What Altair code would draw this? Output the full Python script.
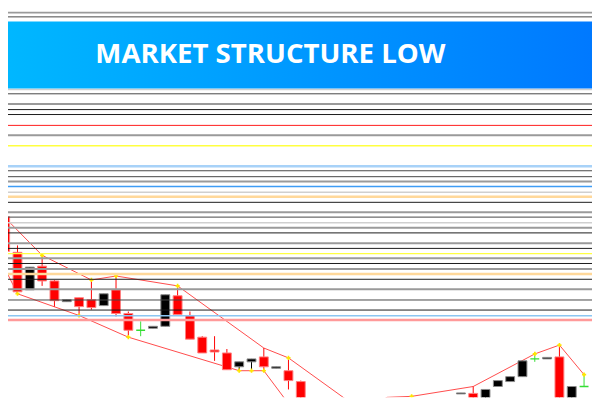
import altair as alt
import pandas as pd

# ---------------- data (price units; higher = up) ----------------
idx   = [0, 1, 2, 3, 4, 5, 6, 7, 8, 9, 10, 11, 12, 13, 14, 15, 16, 17, 18, 19, 20, 21, 22, 23, 24,
         37, 38, 39, 40, 41, 42, 43, 44, 45, 46, 47]
opens = [183, 147, 109, 133, 118, 97, 101, 99, 93, 109, 85, 68, 70, 72, 103, 83, 61, 48, 45, 31, 36, 41, 29.5, 27, 16,
         3.5, 4, -20, 11, 16, 21, 39, 39, 41, -20, 11]
highs = [185, 154, 132, 144, 119, 99, 101, 119, 105, 123, 87, 77, 72, 104, 113, 87, 62, 62, 49, 36, 39, 50, 31, 40, 17,
         4.5, 11, 8, 17, 21, 37, 46, 40.5, 53, 11, 23]
lows  = [144, 105, 109, 113, 92, 97, 83, 89, 93, 82, 61, 62, 70, 72, 83, 59, 45, 37, 28, 27, 27, 27, 29.5, 8, -10,
         3.5, -25, -22, 11, 16, 21, 36, 39, -25, -22, 11]
closes= [148, 107, 132, 118, 98, 99, 92, 91, 105, 85, 68, 68, 72, 104, 84, 59, 45, 46, 28, 36, 39, 31, 31, 17, -5,
         4.5, -20, 8, 17, 21, 37, 39, 40.5, -20, 11, 11]

# market-structure swing lines
upper_i = [0, 3, 7, 9, 14, 21, 23, 29, 31, 33, 38, 43, 45, 47]
upper_v = [182, 144, 119, 123, 113, 50, 40, -14, 0, 1, 11, 44, 53, 23]
lower_i = [0, 1, 6, 10, 19, 20, 21, 24, 26]
lower_v = [130, 105, 83, 61, 27, 27, 27, -23, -40]

# swing markers
mark_i = [3, 7, 9, 14, 23, 33, 43, 45, 47, 1, 6, 10, 19, 20, 21]
mark_v = [144, 119, 123, 113, 40, 1, 44, 53, 23, 105, 83, 61, 27, 27, 27]

# horizontal price levels
levels = [395.7, 390, 385.7, 312, 307.7, 297.3, 291.7, 286.7, 275.7, 265.7, 255, 234.3, 229.7, 223.7,
          218.7, 213.7, 208, 203.3, 197.7, 187.7, 182.7, 177, 172, 166.7, 156.3, 151, 145.7, 141,
          135.7, 130, 125, 119.7, 109.5, 98.7, 88.5, 82.8, 78.5]
level_style = ["k", "g", "d", "lg", "d", "g", "k", "k", "r", "g", "y", "lb", "d", "d",
               "g", "b", "lg", "o", "k", "g", "d", "lg", "g", "k", "g", "k", "y", "g",
               "k", "g", "o", "k", "g", "d", "k", "lb2", "p"]

title_text = "MARKET STRUCTURE LOW"

# ---------------- styling ----------------
style_color = {"k": "#1a1a1a", "d": "#454545", "g": "#9a9a9a", "lg": "#cfcfcf", "r": "#ff1a1a",
               "y": "#ffff40", "lb": "#a8d2f8", "b": "#3d9cf5", "o": "#ffd89a", "lb2": "#8cc6f2",
               "p": "#ff9a9a"}
style_width = {"k": 1, "d": 1, "g": 2, "lg": 1.5, "r": 1, "y": 1.5, "lb": 2.5, "b": 1.5, "o": 2.5,
               "lb2": 1.5, "p": 2.5}

candles = pd.DataFrame({"i": idx, "open": opens, "high": highs, "low": lows, "close": closes})
def _dir(r):
    if r["close"] < r["open"]:
        return "down"
    if r["close"] > r["open"]:
        return "up"
    return "doji"
candles["dir"] = candles.apply(_dir, axis=1)
fill_map = {"down": "#ff0000", "up": "#000000", "doji": "#33dd33"}
stroke_map = {"down": "#ff8080", "up": "#8a8a8a", "doji": "#33dd33"}
candles["fill"] = candles["dir"].map(fill_map)
candles["edge"] = candles["dir"].map(stroke_map)

lines = pd.DataFrame({
    "i": upper_i + lower_i,
    "v": upper_v + lower_v,
    "series": ["upper"] * len(upper_i) + ["lower"] * len(lower_i),
})
marks = pd.DataFrame({"i": mark_i, "v": mark_v})
lv = pd.DataFrame({"v": levels, "s": level_style})
lv["c"] = lv["s"].map(style_color)
lv["w"] = lv["s"].map(style_width)

PX = 12.7
xs = alt.Scale(domain=[8 / PX, 600 / PX], nice=False, zero=False)
ys = alt.Scale(domain=[0, 392], nice=False, zero=False)
X = alt.X("i:Q", scale=xs, axis=None)

wicks = alt.Chart(candles).mark_rule(strokeWidth=1, clip=True).encode(
    x=X,
    y=alt.Y("low:Q", scale=ys, axis=None),
    y2="high:Q",
    color=alt.Color("fill:N", scale=None),
)
bodies = alt.Chart(candles).transform_filter("datum.dir != 'doji'").mark_bar(
    size=9, clip=True, strokeWidth=1).encode(
    x=X,
    y=alt.Y("open:Q", scale=ys, axis=None),
    y2="close:Q",
    fill=alt.Fill("fill:N", scale=None),
    stroke=alt.Stroke("edge:N", scale=None),
)
dojis = alt.Chart(candles).transform_filter("datum.dir == 'doji'").mark_tick(
    orient="horizontal", size=9, thickness=1.5, clip=True, opacity=1).encode(
    x=X,
    y=alt.Y("close:Q", scale=ys, axis=None),
    color=alt.Color("fill:N", scale=None),
)
swing = alt.Chart(lines).mark_line(strokeWidth=1, color="#ff2a2a", opacity=0.85, clip=True).encode(
    x=X,
    y=alt.Y("v:Q", scale=ys, axis=None),
    detail="series:N",
)
pts = alt.Chart(marks).mark_point(shape="cross", filled=True, size=18, color="#ffe600",
                                  opacity=1, clip=True).encode(
    x=X,
    y=alt.Y("v:Q", scale=ys, axis=None),
)
rules = alt.Chart(lv).mark_rule(clip=True).encode(
    y=alt.Y("v:Q", scale=ys, axis=None),
    color=alt.Color("c:N", scale=None),
    strokeWidth=alt.StrokeWidth("w:Q", scale=None),
)

banner_df = pd.DataFrame({"t": [title_text]})
banner = alt.Chart(banner_df).mark_rect(
    color=alt.Gradient(
        gradient="linear",
        stops=[alt.GradientStop(color="#00b8ff", offset=0),
               alt.GradientStop(color="#0079ff", offset=1)],
        x1=0, x2=1, y1=0, y2=0,
    )
).encode(x=alt.value(-8), x2=alt.value(592), y=alt.value(11), y2=alt.value(79))
title = alt.Chart(banner_df).mark_text(
    font="Open Sans", fontWeight=700, fontSize=28, color="white",
    align="center", baseline="alphabetic",
).encode(text="t:N", x=alt.value(266), y=alt.value(53))

chart = alt.layer(swing, wicks, bodies, dojis, pts, rules, banner, title).properties(
    width=592, height=392, padding=0, autosize="none", background="white"
).configure_view(strokeWidth=0)

chart.save("out.html", embed_options={"renderer": "svg", "actions": False})
